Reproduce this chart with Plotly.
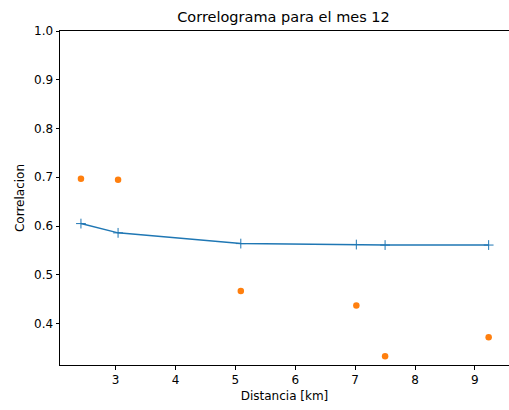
import plotly.graph_objects as go

distancia = [2.42, 3.04, 5.09, 7.02, 7.50, 9.23]
corr_obs = [0.697, 0.695, 0.467, 0.437, 0.333, 0.372]
corr_model = [0.605, 0.586, 0.564, 0.562, 0.561, 0.561]
xticks = [3, 4, 5, 6, 7, 8, 9]
yticks = [0.4, 0.5, 0.6, 0.7, 0.8, 0.9, 1.0]

fig = go.Figure()
fig.add_trace(go.Scatter(
    x=distancia, y=corr_model, mode="lines+markers",
    line=dict(color="#1f77b4", width=1.5),
    marker=dict(symbol="cross-thin", size=7, line=dict(color="#1f77b4", width=1)),
    showlegend=False))
fig.add_trace(go.Scatter(
    x=distancia, y=corr_obs, mode="markers",
    marker=dict(color="#ff7f0e", size=6.5),
    showlegend=False))

font = dict(family="DejaVu Sans", size=12, color="black")
fig.update_layout(
    width=509, height=410,
    margin=dict(l=60, r=0, t=31, b=45),
    paper_bgcolor="white", plot_bgcolor="white",
    font=font,
    title=dict(text="Correlograma para el mes 12", x=0.557, xanchor="center",
               y=1 - 17/410, yanchor="middle", font=dict(family="DejaVu Sans", size=14.5, color="black")),
)
fig.update_xaxes(
    range=[2.07, 9.57], tickvals=xticks, ticktext=[str(t) for t in xticks],
    showgrid=False, zeroline=False, showline=True, linecolor="black", linewidth=1, mirror=True,
    ticks="outside", ticklen=3.5, tickcolor="black", tickwidth=1,
    title=dict(text="Distancia [km]", font=font, standoff=5))
fig.update_yaxes(
    range=[0.315, 1.0], tickvals=yticks, ticktext=[f"{t:.1f}" for t in yticks],
    showgrid=False, zeroline=False, showline=True, linecolor="black", linewidth=1, mirror=False,
    ticks="outside", ticklen=3.5, tickcolor="black", tickwidth=1,
    title=dict(text="Correlacion", font=font, standoff=6))

fig.write_html("out.html", config={"displayModeBar": False},
               post_script="document.body.style.margin='0';document.body.style.overflow='hidden';")
